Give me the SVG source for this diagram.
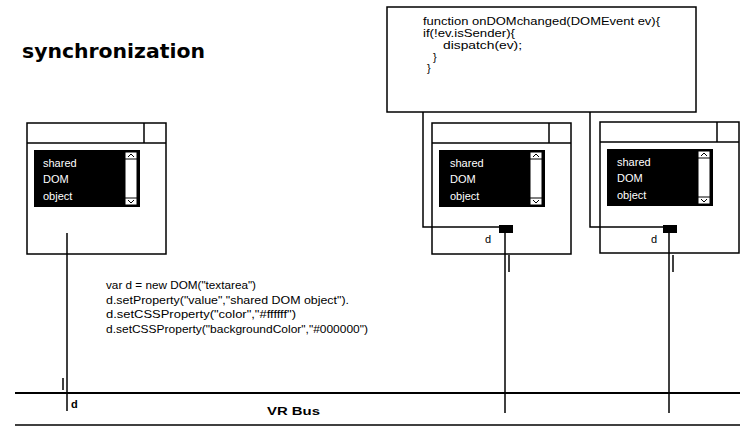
<svg xmlns="http://www.w3.org/2000/svg" width="740" height="432" viewBox="0 0 740 432">
<style>
.frame{fill:#fff;stroke:#000;stroke-width:1.5}
.list{fill:#000}
.sb{fill:#fff;stroke:#000;stroke-width:1}
.lt{font-family:"Liberation Sans",Arial,sans-serif;font-size:11px;fill:#fff}
.code{font-family:"Liberation Sans",Arial,sans-serif;font-size:11px;fill:#000}
.lbl{font-family:"Liberation Sans",Arial,sans-serif;font-size:11px;fill:#000;font-weight:bold}
.ln{fill:none;stroke:#000;stroke-width:1.5}
.bus{fill:none;stroke:#000;stroke-width:2}
</style>
<defs>
<g id="win">
<rect class="frame" x="0" y="0" width="139" height="131"/>
<line class="ln" x1="0" y1="20" x2="139" y2="20"/>
<line class="ln" x1="117" y1="0" x2="117" y2="20"/>
<rect class="list" x="7" y="27" width="106" height="57"/>
<rect class="sb" x="98" y="29" width="12" height="53"/>
<line stroke="#000" x1="98" y1="36" x2="110" y2="36"/>
<line stroke="#000" x1="98" y1="75" x2="110" y2="75"/>
<path d="M101,34 L104,31 L107,34 M101,77 L104,80 L107,77" fill="none" stroke="#000"/>
</g>
</defs>
<text id="title" x="22" y="58" font-family="DejaVu Sans,Verdana,sans-serif" font-weight="bold" font-size="20" textLength="183" lengthAdjust="spacingAndGlyphs">synchronization</text>

<g id="code-box">
<rect class="frame" x="387" y="7" width="309" height="105"/>
<text class="code" x="423" y="25" font-size="10.5" textLength="237" lengthAdjust="spacingAndGlyphs">function onDOMchanged(DOMEvent ev){</text>
<text class="code" x="423" y="37" font-size="10.5" textLength="92" lengthAdjust="spacingAndGlyphs">if(!ev.isSender){</text>
<text class="code" x="443" y="49" font-size="10.5" textLength="79" lengthAdjust="spacingAndGlyphs">dispatch(ev);</text>
<text class="code" x="433" y="61" font-size="10.5">}</text>
<text class="code" x="427" y="72" font-size="10.5">}</text>
</g>

<g id="connectors">
<polyline class="ln" points="423,112 423,227 500,227"/>
<polyline class="ln" points="590,112 590,227 664,227"/>
<line class="ln" x1="67" y1="233" x2="67" y2="411"/>
<line class="ln" x1="63" y1="378" x2="63" y2="390"/>
<line class="ln" x1="505" y1="233" x2="505" y2="413"/>
<line class="ln" x1="509" y1="255" x2="509" y2="272"/>
<line class="ln" x1="669" y1="232" x2="669" y2="413"/>
<line class="ln" x1="673" y1="255" x2="673" y2="272"/>
<line class="bus" x1="15" y1="393" x2="740" y2="393"/>
<line class="ln" x1="15" y1="425" x2="740" y2="425"/>
</g>

<g id="window-left">
<use href="#win" x="27" y="123"/>
<text class="lt" x="43" y="167">shared</text>
<text class="lt" x="43" y="183">DOM</text>
<text class="lt" x="43" y="200">object</text>
</g>
<line class="ln" x1="67" y1="233" x2="67" y2="254"/>

<g id="window-mid">
<use href="#win" x="432" y="123"/>
<text class="lt" x="450" y="167">shared</text>
<text class="lt" x="450" y="183">DOM</text>
<text class="lt" x="450" y="200">object</text>
<line class="ln" x1="432" y1="227" x2="500" y2="227"/>
<rect x="499" y="225" width="14" height="8" fill="#000"/>
<line class="ln" x1="505" y1="233" x2="505" y2="254"/>
<text class="code" x="485" y="243">d</text>
</g>

<g id="window-right">
<use href="#win" x="600" y="122"/>
<text class="lt" x="617" y="166">shared</text>
<text class="lt" x="617" y="182">DOM</text>
<text class="lt" x="617" y="199">object</text>
<line class="ln" x1="600" y1="227" x2="664" y2="227"/>
<rect x="663" y="225" width="14" height="8" fill="#000"/>
<line class="ln" x1="669" y1="232" x2="669" y2="253"/>
<text class="code" x="651" y="243">d</text>
</g>

<g id="code-left">
<text class="code" x="106" y="289" font-size="10.5" textLength="150" lengthAdjust="spacingAndGlyphs">var d = new DOM("textarea")</text>
<text class="code" x="106" y="304" font-size="10.5" textLength="243" lengthAdjust="spacingAndGlyphs">d.setProperty("value","shared DOM object").</text>
<text class="code" x="106" y="318" font-size="10.5" textLength="190" lengthAdjust="spacingAndGlyphs">d.setCSSProperty("color","#ffffff")</text>
<text class="code" x="106" y="333" font-size="10.5" textLength="262" lengthAdjust="spacingAndGlyphs">d.setCSSProperty("backgroundColor","#000000")</text>
</g>

<g id="bus-label">
<text class="lbl" x="71" y="408">d</text>
<text class="lbl" x="267" y="415" font-size="12" textLength="53" lengthAdjust="spacingAndGlyphs">VR Bus</text>
</g>
</svg>
